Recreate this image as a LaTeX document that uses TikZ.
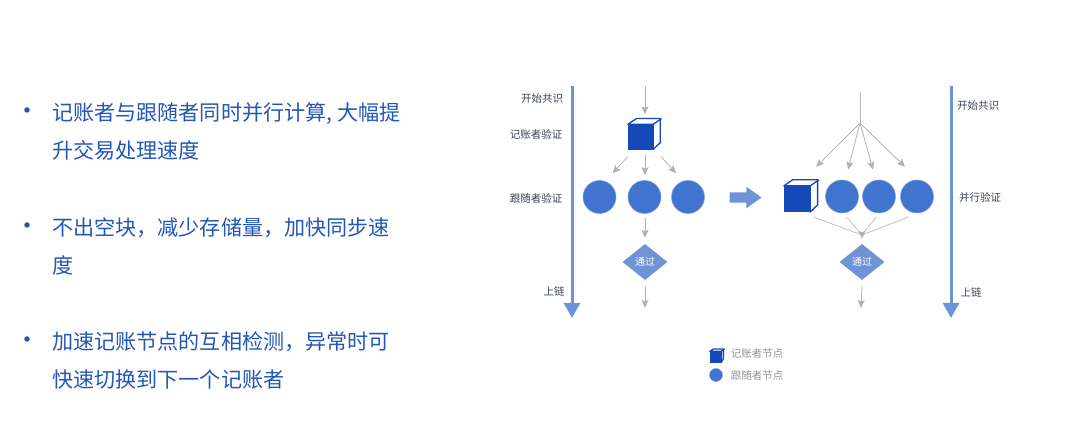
\documentclass[tikz,border=0pt]{standalone}
\usepackage{fontspec}
\setmainfont{Noto Sans CJK SC}
\usetikzlibrary{arrows.meta,positioning,calc,shapes.geometric,shapes.arrows}
\definecolor{textblue}{HTML}{2357B5}
\definecolor{cubeblue}{HTML}{1548B8}
\definecolor{nodeblue}{HTML}{4174CF}
\definecolor{softblue}{HTML}{7093D8}
\definecolor{labgray}{HTML}{3C4352}
\tikzset{
  bodytext/.style={anchor=west, align=left, inner sep=0pt, text=textblue,
                   font=\fontsize{21.1}{38}\selectfont},
  bulletdot/.style={circle, fill=textblue, minimum size=5.5pt, inner sep=0pt},
  flowarr/.style={-{Stealth[length=8pt,width=7pt,inset=1.5pt]}, draw=gray!60, line width=0.8pt},
  flowline/.style={draw=gray!50, line width=0.8pt},
  axisarr/.style={-{Triangle[length=15pt,width=16pt]}, draw=softblue, line width=3pt},
  sidelab/.style={inner sep=0pt, text=labgray, font=\fontsize{10.5}{11}\selectfont},
  keylab/.style={inner sep=0pt, text=gray!85, font=\fontsize{10.5}{11}\selectfont},
  followernode/.style={circle, fill=nodeblue, draw=nodeblue!70, line width=0.5pt,
                       minimum size=33pt, inner sep=0pt},
  passnode/.style={diamond, fill=softblue, minimum width=45pt, minimum height=36pt,
                   inner sep=0pt, text=white, font=\fontsize{10}{10}\selectfont},
  cubefront/.style={fill=cubeblue, draw=cubeblue, line width=1.3pt, inner sep=0pt},
}
% name, x, y, side of the front face
\newcommand{\ledgercube}[4]{%
  \node[cubefront, minimum size=#4pt] (#1) at (#2,#3) {};
  \draw[draw=cubeblue, line width=1.3pt, fill=white, line join=round]
    (#1.north west) -- ++(0.35*#4,-0.24*#4) -- ++(#4,0) -- ++(0,#4) -- (#1.south east)
    -- (#1.north east) -- cycle;
  \draw[draw=cubeblue, line width=1.3pt] (#1.north east) -- ++(0.35*#4,-0.24*#4);
}

\begin{document}
\begin{tikzpicture}[x=1pt,y=-1pt]
\useasboundingbox (0,0) rectangle (1080,430);

% bullet list
\node[bulletdot] (dot1) at (27,110) {};
\node[bulletdot] (dot2) at (27,225) {};
\node[bulletdot] (dot3) at (27,339) {};
\node[bodytext] (item1) at (52,131.5) {记账者与跟随者同时并行计算, 大幅提\\升交易处理速度};
\node[bodytext] (item2) at (52,246.5) {不出空块，减少存储量，加快同步速\\度};
\node[bodytext] (item3) at (52,360.5) {加速记账节点的互相检测，异常时可\\快速切换到下一个记账者};

% serial flow
\coordinate (axisLtop) at (572,86);
\coordinate (axisLend) at (572,318);
\draw[axisarr] (axisLtop) -- (axisLend);
\node[sidelab] (startL) at (542,99) {开始共识};
\node[sidelab] (leaderL) at (536,135) {记账者验证};
\node[sidelab] (followL) at (536,198) {跟随者验证};
\node[sidelab] (chainL) at (554,291) {上链};
\ledgercube{cubeL}{640.5}{137}{24}
\node[followernode] (fa) at (599.5,197) {};
\node[followernode] (fb) at (644.5,197) {};
\node[followernode] (fc) at (688,197) {};
\node[passnode] (passL) at (645,262) {通过};
\coordinate (inL) at (645,86);
\coordinate (outL) at (645,308);
\draw[flowarr] (inL) -- ($(cubeL.north)+(4.5,-10)$);
\draw[flowarr] ($(cubeL.south west)+(0,7)$) -- ($(fa.north)+(13,-7)$);
\draw[flowarr] ($(cubeL.south)+(4.5,5)$) -- ($(fb.north)+(0.5,-5)$);
\draw[flowarr] ($(cubeL.south east)+(8,7)$) -- ($(fc.north)+(-12,-7)$);
\draw[flowarr] ($(fb.south)+(0.5,4)$) -- ($(passL.north)+(0,-6)$);
\draw[flowarr] ($(passL.south)+(0,6)$) -- (outL);

% block arrow between the two flows
\node[single arrow, fill=softblue, minimum width=21pt, minimum height=32pt, inner sep=0pt,
      text height=10pt, text depth=0pt, single arrow head extend=5.5pt,
      single arrow tip angle=70, anchor=tip] (change) at (762,197.5) {};

% parallel flow
\coordinate (inR) at (860,92);
\coordinate (forkR) at (860,123);
\coordinate (joinR) at (862,235);
\coordinate (outR) at (861,308);
\ledgercube{cubeR}{797}{199}{25}
\node[followernode] (ga) at (842,196.5) {};
\node[followernode] (gb) at (879,196.5) {};
\node[followernode] (gc) at (917,196.5) {};
\node[passnode] (passR) at (862,262) {通过};
\draw[flowline] (inR) -- (forkR);
\draw[flowarr] (forkR) -- ($(cubeR.north)+(19,-19)$);
\draw[flowarr] (forkR) -- ($(ga.north)+(6,-10)$);
\draw[flowarr] (forkR) -- ($(gb.north)+(-6,-10)$);
\draw[flowarr] (forkR) -- ($(gc.north)+(-12,-13)$);
\draw[flowline] ($(cubeR.south)+(17,5)$) -- (joinR);
\draw[flowline] ($(ga.south)+(5,4)$) -- (joinR);
\draw[flowline] ($(gb.south)+(-3,4)$) -- (joinR);
\draw[flowline] ($(gc.south)+(-9,4)$) -- (joinR);
\draw[flowarr] ($(joinR)+(0,-3)$) -- ($(passR.north)+(0,-5)$);
\draw[flowarr] ($(passR.south)+(0,6)$) -- (outR);
\coordinate (axisRtop) at (951,86);
\coordinate (axisRend) at (951,318);
\draw[axisarr] (axisRtop) -- (axisRend);
\node[sidelab] (startR) at (978,106) {开始共识};
\node[sidelab] (verifyR) at (980,198) {并行验证};
\node[sidelab] (chainR) at (971,292) {上链};

% key
\ledgercube{cubeKey}{715.5}{357}{10}
\node[followernode, minimum size=13pt] (followKey) at (716,375) {};
\node[keylab] (leaderKey) at (757,354) {记账者节点};
\node[keylab] (followerKey) at (757,376) {跟随者节点};
\end{tikzpicture}
\end{document}
